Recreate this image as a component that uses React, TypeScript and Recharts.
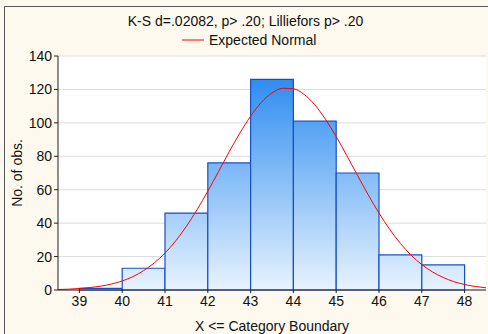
import React from 'react';
import {
  ComposedChart,
  Line,
  XAxis,
  YAxis,
  CartesianGrid,
  ReferenceArea,
  Label,
} from 'recharts';

// histogram bins: lower edge, upper edge (category boundary), count
const binLower = [39, 40, 41, 42, 43, 44, 45, 46, 47];
const binUpper = [40, 41, 42, 43, 44, 45, 46, 47, 48];
const binCounts = [1, 13, 46, 76, 126, 101, 70, 21, 15];

// expected normal curve
const curveX = [
  38.5, 38.75, 39, 39.25, 39.5, 39.75, 40, 40.25, 40.5, 40.75, 41, 41.25, 41.5, 41.75,
  42, 42.25, 42.5, 42.75, 43, 43.25, 43.5, 43.75, 44, 44.25, 44.5, 44.75, 45, 45.25,
  45.5, 45.75, 46, 46.25, 46.5, 46.75, 47, 47.25, 47.5, 47.75, 48, 48.25, 48.5,
];
const curveY = [
  0.3, 0.5, 0.9, 1.5, 2.3, 3.6, 5.4, 8.0, 11.6, 16.2, 22.1, 29.4, 38.1, 48.1,
  59.1, 70.8, 82.7, 93.9, 104.0, 112.2, 117.9, 120.7, 120.4, 117.0, 110.8, 102.1, 91.8, 80.3,
  68.5, 56.9, 46.0, 36.3, 27.9, 20.8, 15.2, 10.8, 7.5, 5.0, 3.3, 2.1, 1.3,
];

const xTicks = [39, 40, 41, 42, 43, 44, 45, 46, 47, 48];
const yTicks = [0, 20, 40, 60, 80, 100, 120, 140];

const title = 'K-S d=.02082, p> .20; Lilliefors p> .20';
const seriesName = 'Expected Normal';
const xLabel = 'X <= Category Boundary';
const yLabel = 'No. of obs.';

const FONT = '"Liberation Sans", Arial, sans-serif';
const CREAM = '#fdf9ee';
const TEXT = { fill: '#111', fontSize: 14, fontFamily: FONT };

const NoTick = () => <g />;

export default function App() {
  const curveData = curveX.map((x, i) => ({ x, y: curveY[i] }));

  return (
    <div
      style={{
        position: 'fixed',
        left: 0,
        top: 0,
        width: 488,
        height: 334,
        overflow: 'hidden',
        background: CREAM,
        fontFamily: FONT,
      }}
    >
      {/* outer frame */}
      <div
        style={{
          position: 'absolute',
          left: 4,
          top: 6,
          width: 520,
          height: 360,
          border: '1px solid #555',
        }}
      />
      <div
        style={{
          position: 'absolute',
          left: 0,
          width: 491,
          top: 13,
          textAlign: 'center',
          fontSize: 14,
          lineHeight: '16px',
          color: '#111',
        }}
      >
        {title}
      </div>
      <div
        style={{
          position: 'absolute',
          left: 182,
          top: 32,
          fontSize: 14,
          lineHeight: '16px',
          color: '#111',
          display: 'flex',
          alignItems: 'center',
        }}
      >
        <svg width={22} height={4} style={{ marginRight: 5 }}>
          <line x1={0} y1={2} x2={22} y2={2} stroke="#ff0000" strokeWidth={1} />
        </svg>
        {seriesName}
      </div>
      <div style={{ position: 'absolute', left: 0, top: 0 }}>
        <ComposedChart
          width={488}
          height={334}
          data={curveData}
          margin={{ top: 56, right: 2, bottom: 0, left: 8 }}
        >
          <defs>
            <linearGradient id="barFill" gradientUnits="userSpaceOnUse" x1="0" y1="56" x2="0" y2="290">
              <stop offset="0%" stopColor="#1b82f0" />
              <stop offset="100%" stopColor="#e8f3fe" />
            </linearGradient>
          </defs>
          <CartesianGrid vertical={false} stroke="#dcdcdc" fill="#ffffff" />
          <XAxis
            dataKey="x"
            type="number"
            domain={[38.5, 48.5]}
            ticks={xTicks}
            allowDataOverflow
            height={44}
            tickSize={3}
            tickMargin={3}
            axisLine={{ stroke: '#222' }}
            tickLine={{ stroke: '#222' }}
            tick={TEXT}
          >
            <Label value={xLabel} position="insideBottom" offset={3} style={TEXT} />
          </XAxis>
          <XAxis
            xAxisId="top"
            orientation="top"
            dataKey="x"
            type="number"
            domain={[38.5, 48.5]}
            ticks={xTicks}
            allowDataOverflow
            height={0}
            mirror
            tick={NoTick}
            tickSize={3}
            axisLine={{ stroke: '#777' }}
            tickLine={{ stroke: '#222' }}
          />
          <YAxis
            type="number"
            domain={[0, 140]}
            ticks={yTicks}
            width={50}
            tickSize={4}
            axisLine={{ stroke: '#222' }}
            tickLine={{ stroke: '#222' }}
            tick={TEXT}
          >
            <Label
              value={yLabel}
              angle={-90}
              position="insideLeft"
              offset={9}
              style={{ ...TEXT, textAnchor: 'middle' }}
            />
          </YAxis>
          <YAxis
            yAxisId="right"
            orientation="right"
            type="number"
            domain={[0, 140]}
            ticks={yTicks}
            width={0}
            mirror
            tick={NoTick}
            tickSize={3}
            axisLine={{ stroke: '#777', strokeWidth: 2 }}
            tickLine={{ stroke: '#222' }}
          />
          {binCounts.map((c, i) => (
            <ReferenceArea
              key={`bin-${i}`}
              x1={binLower[i]}
              x2={binUpper[i]}
              y1={0}
              y2={c}
              fill="url(#barFill)"
              fillOpacity={1}
              stroke="#1650c8"
              strokeWidth={1.2}
            />
          ))}
          <Line
            type="monotone"
            dataKey="y"
            name={seriesName}
            stroke="#ff0000"
            strokeWidth={1}
            dot={false}
            activeDot={false}
            isAnimationActive={false}
          />
        </ComposedChart>
      </div>
    </div>
  );
}
